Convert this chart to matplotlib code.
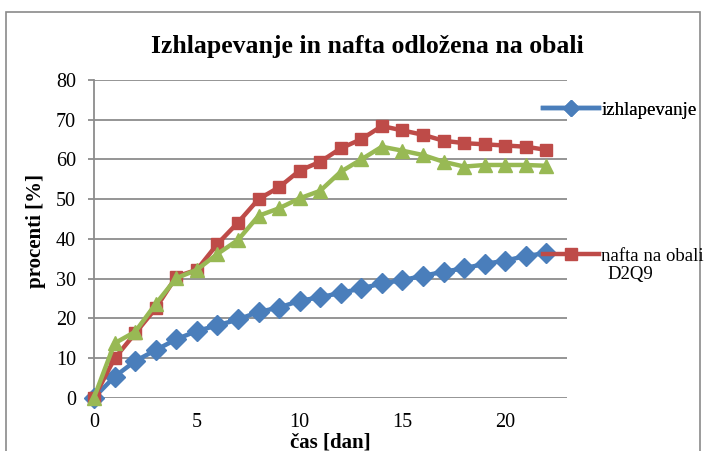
import matplotlib
matplotlib.use("Agg")
import matplotlib.pyplot as plt
from matplotlib.lines import Line2D
from matplotlib.patches import Rectangle

plt.rcParams['font.family'] = ['Liberation Serif', 'DejaVu Serif']

days = list(range(23))
izhlapevanje = [0, 5.3, 9.2, 12.0, 14.7, 16.8, 18.2, 19.7, 21.6, 22.7, 24.4, 25.3,
                26.4, 27.5, 28.8, 29.6, 30.7, 31.7, 32.6, 33.7, 34.5, 35.7, 36.4]
nafta_na_obali = [0, 9.9, 16.2, 22.5, 30.5, 32.2, 38.7, 44.1, 50.0, 53.0, 57.2, 59.4,
                  62.8, 65.1, 68.4, 67.3, 66.2, 64.7, 64.1, 63.8, 63.5, 63.2, 62.4]
d2q9 = [0, 13.7, 16.6, 23.6, 30.1, 32.2, 36.2, 39.7, 45.8, 47.7, 50.2, 52.1,
        56.9, 60.0, 63.2, 62.2, 61.1, 59.4, 58.2, 58.6, 58.6, 58.6, 58.4]

title = "Izhlapevanje in nafta odložena na obali"
x_label = "čas [dan]"
y_label = "procenti [%]"
x_ticks = [0, 5, 10, 15, 20]
y_ticks = [0, 10, 20, 30, 40, 50, 60, 70, 80]

BLUE = "#4A7EBB"
RED = "#BE4B48"
GREEN = "#98B954"
GRID = "#8C8C8C"

W, H = 709, 451
fig = plt.figure(figsize=(W / 100, H / 100), dpi=100)

# outer chart frame
fig.patches.append(Rectangle((6 / W, -0.05), (700 - 6) / W, 1.05 - 12 / H,
                             transform=fig.transFigure, fill=False,
                             edgecolor="#8A8A8A", linewidth=1.2))

ax = fig.add_axes([94 / W, 1 - 397.7 / H, (567 - 94) / W, (397.7 - 80) / H])
ax.set_xlim(0, 23)
ax.set_ylim(0, 80)

ax.plot(days, izhlapevanje, color=BLUE, lw=3.2, marker="D", ms=10,
        clip_on=False, zorder=3)
ax.plot(days, nafta_na_obali, color=RED, lw=3.2, marker="s", ms=9,
        clip_on=False, zorder=3)
ax.plot(days, d2q9, color=GREEN, lw=3.2, marker="^", ms=10,
        clip_on=False, zorder=4)

ax.set_yticks(y_ticks)
ax.set_xticks(x_ticks)
ax.yaxis.grid(True, color=GRID, lw=1.3)
ax.set_axisbelow(True)
for s in ["top", "right", "bottom"]:
    ax.spines[s].set_visible(False)
ax.spines["left"].set_color(GRID)
ax.spines["left"].set_linewidth(1.3)
ax.tick_params(axis="y", length=4, color=GRID, width=1.3, pad=9, labelsize=14.5)
ax.tick_params(axis="x", length=0, pad=11, labelsize=14.5)

fig.text(367 / W, 1 - 47 / H, title, ha="center", va="center",
         fontsize=18.5, fontweight="bold")
fig.text(330 / W, 1 - 442 / H, x_label, ha="center", va="center",
         fontsize=15, fontweight="bold")
fig.text(36 / W, 1 - 231 / H, y_label, ha="center", va="center",
         fontsize=15, fontweight="bold", rotation=90)

h_blue = Line2D([], [], color=BLUE, lw=3.2, marker="D", ms=8)
h_red = Line2D([], [], color=RED, lw=3.2, marker="s", ms=8)
leg1 = fig.legend([h_blue], ["izhlapevanje"], loc="center left",
                  bbox_to_anchor=(543 / W, 1 - 110 / H), frameon=False,
                  fontsize=13.5, handlelength=3.0, handletextpad=0.1,
                  borderpad=0, borderaxespad=0)
leg2 = fig.legend([h_red], ["nafta na obali"], loc="center left",
                  bbox_to_anchor=(543 / W, 1 - 256 / H), frameon=False,
                  fontsize=13.5, handlelength=3.0, handletextpad=0.1,
                  borderpad=0, borderaxespad=0)
fig.add_artist(leg1)
fig.text(607 / W, 1 - 274 / H, "D2Q9", ha="left", va="center", fontsize=13.5)

fig.savefig("out.png", dpi=100)
